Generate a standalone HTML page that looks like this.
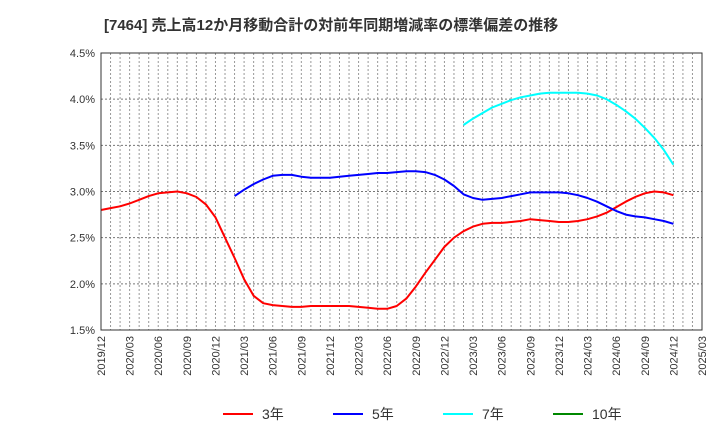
<!DOCTYPE html>
<html><head><meta charset="utf-8"><style>
body{margin:0;background:#fff;font-family:"Liberation Sans","Noto Sans CJK JP",sans-serif;}
</style></head><body>
<svg id="c" width="720" height="440" xmlns="http://www.w3.org/2000/svg" font-family="Liberation Sans, Noto Sans CJK JP, sans-serif">
<text x="104" y="30" font-size="15" font-weight="bold" fill="#333">[7464]  売上高12か月移動合計の対前年同期増減率の標準偏差の推移</text>
<g id="grid"></g><g id="series"></g><g id="axes"></g>
<g font-size="14" fill="#333">
<line x1="223" y1="414" x2="253" y2="414" stroke="#f00" stroke-width="2"/><text x="262" y="419">3年</text>
<line x1="333" y1="414" x2="363" y2="414" stroke="#00f" stroke-width="2"/><text x="372" y="419">5年</text>
<line x1="443" y1="414" x2="473" y2="414" stroke="#0ff" stroke-width="2"/><text x="482" y="419">7年</text>
<line x1="553" y1="414" x2="583" y2="414" stroke="#080" stroke-width="2"/><text x="592" y="419">10年</text>
</g>
</svg>
<script>
const xLabels=["2019/12","2020/03","2020/06","2020/09","2020/12","2021/03","2021/06","2021/09","2021/12","2022/03","2022/06","2022/09","2022/12","2023/03","2023/06","2023/09","2023/12","2024/03","2024/06","2024/09","2024/12","2025/03"];
const yTicks=[1.5,2.0,2.5,3.0,3.5,4.0,4.5];
const red=[2.80,2.82,2.84,2.87,2.91,2.95,2.98,2.99,3.00,2.98,2.94,2.86,2.72,2.50,2.28,2.05,1.87,1.79,1.77,1.76,1.75,1.75,1.76,1.76,1.76,1.76,1.76,1.75,1.74,1.73,1.73,1.76,1.84,1.97,2.12,2.26,2.40,2.50,2.57,2.62,2.65,2.66,2.66,2.67,2.68,2.70,2.69,2.68,2.67,2.67,2.68,2.70,2.73,2.77,2.83,2.89,2.94,2.98,3.00,2.99,2.96];
const blueStart=14;
const blue=[2.95,3.02,3.08,3.13,3.17,3.18,3.18,3.16,3.15,3.15,3.15,3.16,3.17,3.18,3.19,3.20,3.20,3.21,3.22,3.22,3.21,3.18,3.13,3.06,2.97,2.93,2.91,2.92,2.93,2.95,2.97,2.99,2.99,2.99,2.99,2.98,2.96,2.93,2.89,2.84,2.79,2.75,2.73,2.72,2.70,2.68,2.65];
const cyanStart=38;
const cyan=[3.72,3.79,3.85,3.91,3.95,3.99,4.02,4.04,4.06,4.07,4.07,4.07,4.07,4.06,4.04,4.00,3.94,3.87,3.79,3.69,3.58,3.45,3.29];
const L=101,R=702,T=53,B=330,NM=63;
const x=m=>L+(R-L)*m/NM;
const y=v=>B-(B-T)*(v-1.5)/3.0;
const NS="http://www.w3.org/2000/svg";
function mk(tag,attrs,parent){const e=document.createElementNS(NS,tag);for(const k in attrs)e.setAttribute(k,attrs[k]);parent.appendChild(e);return e;}
const grid=document.getElementById('grid'),axes=document.getElementById('axes'),ser=document.getElementById('series');
for(let m=1;m<NM;m++){const l=mk('line',{x1:x(m),x2:x(m),y1:T,y2:B,stroke:'#999','stroke-dasharray':'2,2','stroke-width':1},grid);

}
yTicks.forEach(v=>{const l=mk('line',{x1:L,x2:R,y1:y(v),y2:y(v),stroke:'#777','stroke-dasharray':'2,2','stroke-width':1},grid);


const t=mk('text',{x:L-6,y:y(v)+4,'text-anchor':'end','font-size':11,fill:'#333'},axes);t.textContent=v.toFixed(1)+'%';

});
const fr=mk('rect',{x:L,y:T,width:R-L,height:B-T,fill:'none',stroke:'#333','stroke-width':1},axes);


xLabels.forEach((s,i)=>{const xx=x(i*3);const t=mk('text',{x:xx+4,y:B+6,'text-anchor':'end','font-size':11,fill:'#333',transform:`rotate(-90 ${xx+4} ${B+6})`},axes);t.textContent=s;

});
function line(arr,start,color,name){const p=arr.map((v,i)=>`${x(start+i).toFixed(1)},${y(v).toFixed(1)}`).join(' ');
const e=mk('polyline',{points:p,fill:'none',stroke:color,'stroke-width':2,'stroke-linejoin':'round'},ser);

}
line(red,0,'#f00','series-3y');
line(blue,blueStart,'#00f','series-5y');
line(cyan,cyanStart,'#0ff','series-7y');
</script>
</body></html>
